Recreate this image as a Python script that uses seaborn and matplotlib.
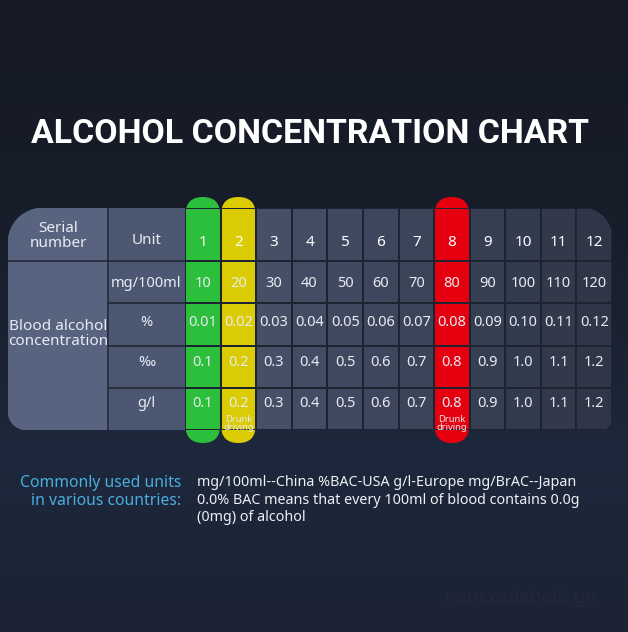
import numpy as np
import matplotlib
matplotlib.use("Agg")
import matplotlib.pyplot as plt
from matplotlib.colors import LinearSegmentedColormap
from matplotlib.path import Path
from matplotlib.patches import PathPatch, FancyBboxPatch
import seaborn as sns

# --- data ---
serial = [1, 2, 3, 4, 5, 6, 7, 8, 9, 10, 11, 12]
units = ["mg/100ml", "%", "‰", "g/l"]
mg_100ml = [10, 20, 30, 40, 50, 60, 70, 80, 90, 100, 110, 120]
bac_percent = ["0.01", "0.02", "0.03", "0.04", "0.05", "0.06",
               "0.07", "0.08", "0.09", "0.10", "0.11", "0.12"]
bac_permille = ["0.1", "0.2", "0.3", "0.4", "0.5", "0.6",
                "0.7", "0.8", "0.9", "1.0", "1.1", "1.2"]
g_per_l = ["0.1", "0.2", "0.3", "0.4", "0.5", "0.6",
           "0.7", "0.8", "0.9", "1.0", "1.1", "1.2"]
highlight_cols = [1, 2, 8]
highlight_colors = ["#2cbf3b", "#dbcb03", "#e6000f"]
drunk_driving_cols = [2, 8]

title = "ALCOHOL CONCENTRATION CHART"
note_label = "Commonly used units\nin various countries:"
note_text = ("mg/100ml--China %BAC-USA g/l-Europe mg/BrAC--Japan\n"
             "0.0% BAC means that every 100ml of blood contains 0.0g\n"
             "(0mg) of alcohol")

# --- layout (pixels) ---
W, H = 628, 632
X0, X1 = 8, 612
LABEL_X1, UNIT_X1 = 108, 185
TOP, HEAD_Y1, BOTTOM = 208, 261, 430
PILL_Y0, PILL_Y1 = 197, 443
ncol = len(serial)
col_w = (X1 - UNIT_X1) / ncol
row_h = (BOTTOM - HEAD_Y1) / len(units)

TEXT = "#e8ebf2"
GRID = "#1e2331"
LW = 1.1

sns.set_theme(style="white")
plt.rcParams["font.family"] = ["Noto Sans", "DejaVu Sans"]


def rounded_path(x0, y0, x1, y1, r_tl, r_tr, r_br, r_bl):
    def arc(cx, cy, r, a0, a1):
        t = np.radians(np.linspace(a0, a1, 20))
        return np.column_stack([cx + r * np.cos(t), cy + r * np.sin(t)])
    pts = np.vstack([
        arc(x0 + r_tl, y0 + r_tl, r_tl, 180, 270),
        arc(x1 - r_tr, y0 + r_tr, r_tr, 270, 360),
        arc(x1 - r_br, y1 - r_br, r_br, 0, 90),
        arc(x0 + r_bl, y1 - r_bl, r_bl, 90, 180),
    ])
    pts = np.vstack([pts, pts[:1]])
    return Path(pts, closed=True)


def fig_rect(x0, y0, x1, y1):
    return [x0 / W, 1 - y1 / H, (x1 - x0) / W, (y1 - y0) / H]


fig = plt.figure(figsize=(W / 100, H / 100), dpi=100)

# background axes in pixel coordinates
ax = fig.add_axes([0, 0, 1, 1])
ax.set_xlim(0, W)
ax.set_ylim(H, 0)
ax.axis("off")

bg = LinearSegmentedColormap.from_list(
    "bg", [(0, "#151a25"), (0.33, "#171d29"), (0.72, "#1e283c"), (1, "#1b2334")])
grad = np.linspace(0, 1, 256)[:, None]
ax.imshow(grad, cmap=bg, extent=(0, W, H, 0), aspect="auto", zorder=0)

ax.text(W / 2 - 4, 134, title, ha="center", va="center", color="white",
        fontsize=24.4, fontweight="bold", family=["Roboto", "DejaVu Sans"])

table = PathPatch(rounded_path(X0, TOP, X1, BOTTOM, 34, 30, 12, 18),
                  facecolor="#4c5772", edgecolor="none", zorder=1)
ax.add_patch(table)
label_col = ax.fill_between([X0, LABEL_X1], TOP, BOTTOM, color="#58647f", zorder=1.5)
label_col.set_clip_path(table)

# unit column grid and headers
ax.plot([LABEL_X1, LABEL_X1], [TOP, BOTTOM], color=GRID, lw=LW, zorder=2)
ax.plot([X0, UNIT_X1], [HEAD_Y1, HEAD_Y1], color=GRID, lw=LW, zorder=2)
for k in range(1, len(units)):
    ax.plot([LABEL_X1, UNIT_X1], [HEAD_Y1 + k * row_h] * 2, color=GRID, lw=LW, zorder=2)
ax.text((X0 + LABEL_X1) / 2, 236, "Serial\nnumber", ha="center", va="center",
        color=TEXT, fontsize=11, linespacing=0.95)
ax.text((LABEL_X1 + UNIT_X1) / 2, 240, "Unit", ha="center", va="center",
        color=TEXT, fontsize=11)
ax.text((X0 + LABEL_X1) / 2, 334, "Blood alcohol\nconcentration", ha="center",
        va="center", color=TEXT, fontsize=11, linespacing=0.95)
row_shift = [1, -2, -4, -5]
for i, u in enumerate(units):
    ax.text((LABEL_X1 + UNIT_X1) / 2, HEAD_Y1 + (i + 0.5) * row_h + row_shift[i], u,
            ha="center", va="center", color=TEXT, fontsize=10.5)

# highlight pills
for c, col in zip(highlight_cols, highlight_colors):
    px0 = UNIT_X1 + (c - 1) * col_w + 0.6
    pill = FancyBboxPatch((px0, PILL_Y0), col_w - 1.2, PILL_Y1 - PILL_Y0,
                          boxstyle=f"round,pad=0,rounding_size={(col_w - 1.2) / 2}",
                          facecolor=col, edgecolor="none", zorder=3)
    ax.add_patch(pill)
    for k in range(len(units)):
        ax.plot([px0, px0 + col_w - 1.2], [HEAD_Y1 + k * row_h] * 2,
                color="#101010", alpha=0.35, lw=LW, zorder=4)

ax.text(181, 492, note_label, ha="right", va="center", color="#4aaee0",
        fontsize=11.3, linespacing=1.15)
ax.text(197, 500, note_text, ha="left", va="center", color="#eef0f4",
        fontsize=10.3, linespacing=1.2)
ax.text(520, 598, "gancxadebebi.ge", ha="center", va="center",
        color="#222938", fontsize=13.5)

# value heatmaps
cmap = LinearSegmentedColormap.from_list("cells", ["#4a546d", "#2e3648"])
hl_mask = np.array([s in highlight_cols for s in serial])

ax_head = fig.add_axes(fig_rect(UNIT_X1, TOP, X1, HEAD_Y1))
sns.heatmap(np.array([serial]), mask=hl_mask[None, :], cmap=cmap,
            vmin=serial[0], vmax=serial[-1], annot=np.array([serial]), fmt="d",
            annot_kws=dict(color="white", fontsize=11, fontweight="bold"),
            linewidths=LW, linecolor=GRID, cbar=False,
            xticklabels=False, yticklabels=False, ax=ax_head)
ax_head.patch.set_alpha(0)
ax_head.collections[0].set_clip_path(table)
HEAD_Y = 0.66
for t in ax_head.texts:
    t.set_y(HEAD_Y)

body_labels = np.array([[str(v) for v in mg_100ml], bac_percent, bac_permille, g_per_l])
body_vals = np.tile(np.array(mg_100ml, dtype=float), (len(units), 1))
ax_body = fig.add_axes(fig_rect(UNIT_X1, HEAD_Y1, X1, BOTTOM))
sns.heatmap(body_vals, mask=np.tile(hl_mask, (len(units), 1)), cmap=cmap,
            vmin=mg_100ml[0], vmax=mg_100ml[-1], annot=body_labels, fmt="",
            annot_kws=dict(color=TEXT, fontsize=10.5),
            linewidths=LW, linecolor=GRID, cbar=False,
            xticklabels=False, yticklabels=False, ax=ax_body)
ax_body.patch.set_alpha(0)
ax_body.collections[0].set_clip_path(table)

for j, s in enumerate(serial):
    if s in highlight_cols:
        ax_head.text(j + 0.5, HEAD_Y, str(s), ha="center", va="center",
                     color="white", fontsize=11, fontweight="bold")
        for i in range(len(units)):
            ax_body.text(j + 0.5, i + 0.5, body_labels[i, j], ha="center",
                         va="center", color=TEXT, fontsize=10.5)
    if s in drunk_driving_cols:
        ax_body.text(j + 0.5, 3.84, "Drunk\ndriving", ha="center", va="center",
                     color=TEXT, fontsize=6.8, linespacing=0.85)

# nudge rows toward the reference spacing
for t in ax_body.texts:
    x, y = t.get_position()
    if t.get_text() != "Drunk\ndriving":
        t.set_y(y + row_shift[int(y)] / row_h)

fig.savefig("out.png", dpi=100)
